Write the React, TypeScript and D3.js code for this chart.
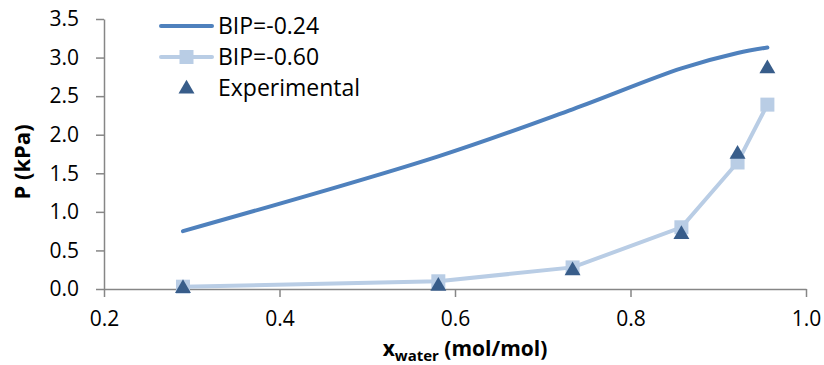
import React, { useEffect, useRef } from 'react'
import * as d3 from 'd3'

// x values (mole fraction of water) shared by every series
const xWater = [0.29, 0.581, 0.734, 0.858, 0.922, 0.956]
const bip024 = [0.75, 1.72, 2.33, 2.86, 3.06, 3.13]
const bip060 = [0.03, 0.1, 0.28, 0.8, 1.64, 2.39]
const experimental = [0.02, 0.05, 0.25, 0.72, 1.76, 2.87]

const xTicks = [0.2, 0.4, 0.6, 0.8, 1.0]
const yTicks = [0, 0.5, 1, 1.5, 2, 2.5, 3, 3.5]
const legendNames = ['BIP=-0.24', 'BIP=-0.60', 'Experimental']

const W = 824
const H = 365
const FONT = '"Open Sans", sans-serif'

const App = () => {
    const ref = useRef<SVGGElement>(null)

    useEffect(() => {
        const g = d3.select(ref.current)
        g.selectAll('*').remove()

        const margin = { top: 19, right: 18, bottom: 76, left: 104 }
        const innerWidth = W - margin.left - margin.right
        const innerHeight = H - margin.top - margin.bottom

        const x = d3.scaleLinear().domain([0.2, 1.0]).range([0, innerWidth])
        const y = d3.scaleLinear().domain([0, 3.5]).range([innerHeight, 0])

        const plot = g.append('g').attr('transform', `translate(${margin.left},${margin.top})`)

        // axes
        const yAxis = plot.append('g').call(
            d3.axisLeft(y).tickValues(yTicks).tickFormat(d3.format('.1f')).tickSize(8).tickSizeOuter(0).tickPadding(17)
        )
        const xAxis = plot.append('g')
            .attr('transform', `translate(0,${innerHeight})`)
            .call(d3.axisBottom(x).tickValues(xTicks).tickFormat(d3.format('.1f')).tickSize(8).tickSizeOuter(0).tickPadding(14))

        for (const ax of [xAxis, yAxis]) {
            ax.select('.domain').attr('stroke', '#868686').attr('stroke-width', 1.5)
            ax.selectAll('line').attr('stroke', '#868686').attr('stroke-width', 1.5)
            ax.selectAll('text')
                .attr('font-family', FONT)
                .attr('font-size', 21)
                .attr('fill', '#000')
        }

        const rows = xWater.map((xv, i) => ({ x: xv, a: bip024[i], b: bip060[i], e: experimental[i] }))

        // BIP=-0.24 (smoothed line)
        const lineA = d3.line<any>().x(d => x(d.x)).y(d => y(d.a)).curve(d3.curveCatmullRom.alpha(0.5))
        plot.append('path')
            .datum(rows)
            .attr('d', lineA)
            .attr('fill', 'none')
            .attr('stroke', '#4F81BD')
            .attr('stroke-width', 4)
            .attr('stroke-linecap', 'round')

        // BIP=-0.60 line with square markers
        const lineB = d3.line<any>().x(d => x(d.x)).y(d => y(d.b))
        plot.append('path')
            .datum(rows)
            .attr('d', lineB)
            .attr('fill', 'none')
            .attr('stroke', '#B9CDE5')
            .attr('stroke-width', 4)
        const sq = 14
        plot.selectAll('.sq')
            .data(rows)
            .enter().append('rect')
            .attr('x', d => x(d.x) - sq / 2)
            .attr('y', d => y(d.b) - sq / 2)
            .attr('width', sq)
            .attr('height', sq)
            .attr('fill', '#B9CDE5')

        // experimental triangles
        const tri = d3.symbol().type(d3.symbolTriangle).size(110)
        plot.selectAll('.tri')
            .data(rows)
            .enter().append('path')
            .attr('d', tri)
            .attr('transform', d => `translate(${x(d.x)},${y(d.e) + 1})`)
            .attr('fill', '#385D8A')

        // legend
        const leg = g.append('g')
        const ly = [26, 57, 88]
        leg.append('line').attr('x1', 161).attr('x2', 212).attr('y1', ly[0]).attr('y2', ly[0])
            .attr('stroke', '#4F81BD').attr('stroke-width', 4).attr('stroke-linecap', 'round')
        leg.append('line').attr('x1', 161).attr('x2', 212).attr('y1', ly[1]).attr('y2', ly[1])
            .attr('stroke', '#B9CDE5').attr('stroke-width', 4).attr('stroke-linecap', 'round')
        leg.append('rect').attr('x', 186.5 - sq / 2).attr('y', ly[1] - sq / 2).attr('width', sq).attr('height', sq)
            .attr('fill', '#B9CDE5')
        leg.append('path').attr('d', tri).attr('transform', `translate(186.5,${ly[2] + 1})`).attr('fill', '#385D8A')
        leg.selectAll('.lt')
            .data(legendNames)
            .enter().append('text')
            .attr('x', 218)
            .attr('y', (d, i) => ly[i])
            .attr('dy', '0.36em')
            .attr('font-family', FONT)
            .attr('font-size', 23)
            .attr('fill', '#000')
            .text(d => d)

        // axis titles
        const xt = g.append('text')
            .attr('x', margin.left + innerWidth / 2 + 10)
            .attr('y', 356)
            .attr('text-anchor', 'middle')
            .attr('font-family', FONT)
            .attr('font-weight', 'bold')
            .attr('font-size', 21)
            .attr('fill', '#000')
        xt.append('tspan').text('x')
        xt.append('tspan').attr('font-size', 15).attr('dy', 5).text('water')
        xt.append('tspan').attr('dy', -5).text(' (mol/mol)')

        g.append('text')
            .attr('transform', `translate(30,162) rotate(-90)`)
            .attr('text-anchor', 'middle')
            .attr('font-family', FONT)
            .attr('font-weight', 'bold')
            .attr('font-size', 22)
            .attr('fill', '#000')
            .text('P (kPa)')
    }, [])

    return (
        <svg width={W} height={H} style={{ position: 'absolute', left: 0, top: 0 }}>
            <rect width={W} height={H} fill="#fff" />
            <g ref={ref} />
        </svg>
    )
}

export default App
